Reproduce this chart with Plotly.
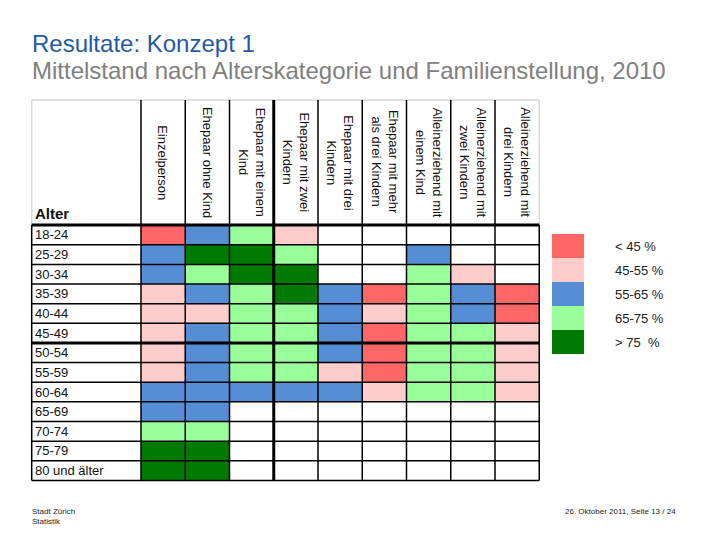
import plotly.graph_objects as go

# ---------------- data ----------------
age_groups = ["18-24", "25-29", "30-34", "35-39", "40-44", "45-49", "50-54",
              "55-59", "60-64", "65-69", "70-74", "75-79", "80 und älter"]
household_types = ["Einzelperson", "Ehepaar ohne Kind", "Ehepaar mit einem<br>Kind",
                   "Ehepaar mit zwei<br>Kindern", "Ehepaar mit drei<br>Kindern",
                   "Ehepaar mit mehr<br>als drei Kindern", "Alleinerziehend mit<br>einem Kind",
                   "Alleinerziehend mit<br>zwei Kindern", "Alleinerziehend mit<br>drei Kindern"]
class_labels = ["< 45 %", "45-55 %", "55-65 %", "65-75 %", "> 75  %"]
class_colors = ["#FF6666", "#FFCCCC", "#558ED5", "#99FF99", "#007A00"]

# class codes (1..5 -> class_labels), None = no value
einzelperson       = [1, 3, 3, 2, 2, 2, 2, 2, 3, 3, 4, 5, 5]
ehepaar_ohne_kind  = [3, 5, 4, 3, 2, 3, 3, 3, 3, 3, 4, 5, 5]
ehepaar_1_kind     = [4, 5, 5, 4, 4, 4, 4, 4, 3, None, None, None, None]
ehepaar_2_kinder   = [2, 4, 5, 5, 4, 4, 4, 4, 3, None, None, None, None]
ehepaar_3_kinder   = [None, None, None, 3, 3, 3, 3, 2, 3, None, None, None, None]
ehepaar_mehr_3     = [None, None, None, 1, 2, 1, 1, 1, 2, None, None, None, None]
allein_1_kind      = [None, 3, 4, 4, 4, 4, 4, 4, 4, None, None, None, None]
allein_2_kinder    = [None, None, 2, 3, 3, 4, 4, 4, 4, None, None, None, None]
allein_3_kinder    = [None, None, None, 1, 1, 2, 2, 2, 2, None, None, None, None]

columns = [einzelperson, ehepaar_ohne_kind, ehepaar_1_kind, ehepaar_2_kinder,
           ehepaar_3_kinder, ehepaar_mehr_3, allein_1_kind, allein_2_kinder, allein_3_kinder]

n_rows = len(age_groups)
n_cols = len(household_types)
z = [[columns[c][r] for c in range(n_cols)] for r in range(n_rows)]

# discrete colorscale
cs = []
for i, col in enumerate(class_colors):
    cs.append([i / 5, col])
    cs.append([(i + 1) / 5, col])

# ---------------- geometry (layout) ----------------
W, H = 720, 540
OFF = 8  # page body margin offset

def px(p):   # page x px -> paper x
    return (p - OFF) / W

def py(p):   # page y px -> paper y
    return 1 - (p - OFF) / H

label_w = 2.47      # label column width in cell units
header_h = 6.37     # header height in row units
pad_x, pad_y = 0.1, 0.2
ux, uy = 44.25, 19.64   # px per unit
tbl_left_px, tbl_top_px = 31.7, 100.0

x_left = -0.5 - label_w
x_right = n_cols - 0.5
y_top = -0.5 - header_h
y_bot = n_rows - 0.5

ax_x0 = x_left - pad_x
ax_x1 = x_right + pad_x
ax_y0 = y_top - pad_y
ax_y1 = y_bot + pad_y

dom_x0 = px(tbl_left_px - pad_x * ux)
dom_x1 = px(tbl_left_px + (ax_x1 - x_left) * ux)
dom_ytop = py(tbl_top_px - pad_y * uy)
dom_ybot = py(tbl_top_px + (ax_y1 - y_top) * uy)

fig = go.Figure()
fig.add_trace(go.Heatmap(
    z=z, x=list(range(n_cols)), y=list(range(n_rows)),
    zmin=0.5, zmax=5.5, colorscale=cs, showscale=False,
    hoverongaps=False,
))

shapes = []
BLACK = "#000000"
GRAY = "#D8D8D8"

def vline(x, y0, y1, color, w):
    shapes.append(dict(type="line", xref="x", yref="y", x0=x, x1=x, y0=y0, y1=y1,
                       line=dict(color=color, width=w)))

def hline(y, x0, x1, color, w):
    shapes.append(dict(type="line", xref="x", yref="y", x0=x0, x1=x1, y0=y, y1=y,
                       line=dict(color=color, width=w)))

# header borders (light gray)
hline(y_top, x_left, x_right, GRAY, 1.5)
vline(x_left, y_top, -0.5, GRAY, 1.5)
vline(x_right, y_top, -0.5, GRAY, 1.5)
# body outer borders
vline(x_left, -0.5, y_bot, BLACK, 1.5)
vline(x_right, -0.5, y_bot, BLACK, 1.5)
# inner vertical lines (full height)
for c in range(n_cols):
    xb = c - 0.5
    vline(xb, y_top, y_bot, BLACK, 3 if c == 3 else 1.5)
# horizontal lines
for r in range(n_rows + 1):
    yb = r - 0.5
    w = 3 if r in (0, 6) else 1.5
    hline(yb, x_left, x_right, BLACK, w)

# legend boxes
leg_top, leg_step = 234, 24
for i, col in enumerate(class_colors):
    shapes.append(dict(type="rect", xref="paper", yref="paper",
                       x0=px(552), x1=px(584),
                       y0=py(leg_top + (i + 1) * leg_step),
                       y1=py(leg_top + i * leg_step),
                       line=dict(width=0), fillcolor=col))

annotations = []
FONT = "Liberation Sans, Arial, sans-serif"
# legend labels
for i, lab in enumerate(class_labels):
    annotations.append(dict(xref="paper", yref="paper", x=px(613),
                            y=py(leg_top + (i + 0.5) * leg_step),
                            text=lab, showarrow=False, xanchor="left", yanchor="middle",
                            font=dict(family=FONT, size=13, color="#222222")))
# row labels
for r, lab in enumerate(age_groups):
    annotations.append(dict(xref="x", yref="y", x=x_left, y=r, xshift=1,
                            text=lab, showarrow=False, xanchor="left", yanchor="middle",
                            font=dict(family=FONT, size=13, color="#111111")))
# header labels (rotated)
for c, lab in enumerate(household_types):
    annotations.append(dict(xref="x", yref="y", x=c, y=-3.7, text=lab, showarrow=False,
                            textangle=90, xanchor="center", yanchor="middle", align="center",
                            font=dict(family=FONT, size=13, color="#111111")))
annotations.append(dict(xref="x", yref="y", x=x_left, y=-0.5, xshift=1, yshift=1,
                        text="<b>Alter</b>", showarrow=False, xanchor="left", yanchor="bottom",
                        font=dict(family=FONT, size=15, color="#111111")))
# titles
annotations.append(dict(xref="paper", yref="paper", x=px(30), y=py(59),
                        text="Resultate: Konzept 1", showarrow=False, xanchor="left",
                        yanchor="bottom", font=dict(family=FONT, size=24, color="#1F5AA8")))
annotations.append(dict(xref="paper", yref="paper", x=px(30), y=py(86),
                        text="Mittelstand nach Alterskategorie und Familienstellung, 2010",
                        showarrow=False, xanchor="left", yanchor="bottom",
                        font=dict(family=FONT, size=24, color="#808080")))
# footer
annotations.append(dict(xref="paper", yref="paper", x=px(30), y=py(505),
                        text="Stadt Zürich<br>Statistik", showarrow=False, xanchor="left",
                        yanchor="top", align="left",
                        font=dict(family=FONT, size=8, color="#222222")))
annotations.append(dict(xref="paper", yref="paper", x=px(678), y=py(505),
                        text="26. Oktober 2011, Seite 13 / 24", showarrow=False,
                        xanchor="right", yanchor="top",
                        font=dict(family=FONT, size=8, color="#222222")))

fig.update_layout(
    width=W, height=H,
    margin=dict(l=0, r=0, t=0, b=0),
    paper_bgcolor="white", plot_bgcolor="white",
    xaxis=dict(domain=[dom_x0, dom_x1], range=[ax_x0, ax_x1], visible=False,
               showgrid=False, zeroline=False, fixedrange=True),
    yaxis=dict(domain=[dom_ybot, dom_ytop], range=[ax_y1, ax_y0], visible=False,
               showgrid=False, zeroline=False, fixedrange=True),
    shapes=shapes, annotations=annotations,
    showlegend=False,
)

fig.write_html("out.html")
